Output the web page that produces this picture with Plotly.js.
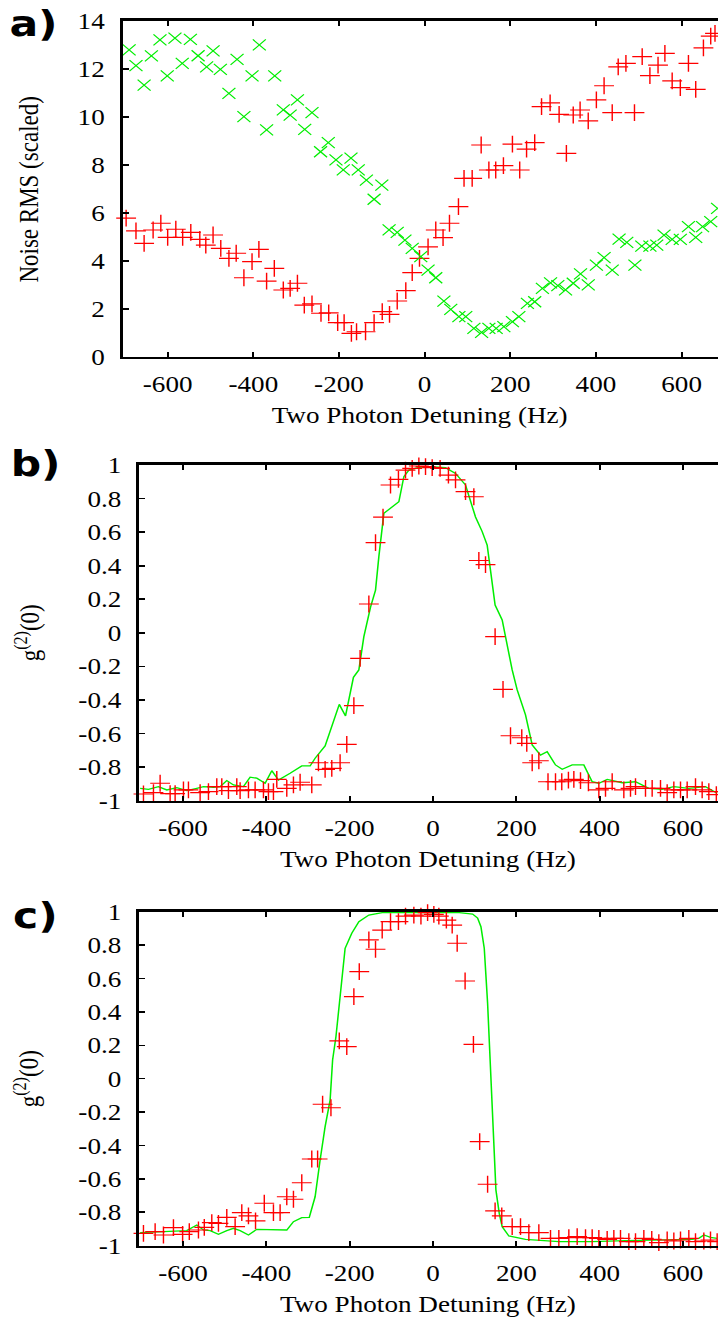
<!DOCTYPE html>
<html>
<head>
<meta charset="utf-8">
<script src="https://cdn.plot.ly/plotly-3.0.1.min.js"></script>
<style>
html,body{margin:0;padding:0;background:#fff;overflow:hidden;}
#plot{width:608px;height:1321px;transform:scaleX(1.18092);transform-origin:0 0;}
</style>
</head>
<body>
<div id="plot"></div>
<script>
// ---------- Panel a: noise RMS ----------
const rmsRedX = [-697,-674,-655,-634,-616,-600,-581,-565,-546,-525,-511,-494,-476,-457,-440,-422,-403,-387,-369,-351,-330,-314,-297,-281,-263,-242,-224,-203,-188,-171,-159,-138,-118,-99,-82,-64,-44,-29,-12,8,26,43,58,79,92,111,132,150,166,184,205,222,238,257,273,293,314,331,347,363,382,401,419,438,452,470,490,508,526,545,561,578,597,616,633,651,668,678];
const rmsRedY = [5.77,5.24,4.72,5.28,5.56,4.97,5.31,4.97,5.18,4.89,4.65,5.07,4.51,4.10,4.31,3.29,3.96,4.47,3.15,3.68,2.78,2.85,3.06,2.15,2.20,1.81,1.83,1.42,1.42,0.97,1.04,1.04,1.42,1.88,1.76,2.32,2.75,3.50,4.10,4.58,5.28,4.96,5.56,6.25,7.43,7.43,8.82,7.78,7.78,7.96,8.86,7.78,8.65,8.92,10.42,10.58,10.10,8.47,10.07,10.28,9.83,10.70,11.29,10.17,12.08,12.22,10.17,12.50,11.71,12.15,12.64,11.49,11.21,12.22,11.14,12.87,13.36,13.47];
const rmsGreenX = [-690,-674,-655,-638,-618,-601,-583,-566,-547,-529,-509,-494,-477,-457,-438,-422,-403,-386,-369,-350,-330,-314,-297,-280,-263,-243,-225,-207,-190,-172,-155,-136,-118,-100,-83,-64,-46,-29,-9,8,26,45,61,80,96,115,133,150,167,185,205,220,240,257,275,294,311,329,347,364,382,401,419,438,454,472,491,507,526,542,559,578,597,616,633,649,668,684];
const rmsGreenY = [12.78,12.13,11.32,12.53,13.20,11.70,13.27,12.22,13.22,12.54,12.08,12.74,11.97,10.97,12.39,10.00,11.70,12.99,9.45,11.70,10.28,10.07,10.70,9.47,10.17,8.54,8.92,8.20,7.78,8.27,7.78,7.36,6.56,7.15,5.28,5.18,4.86,4.51,4.17,3.61,3.29,2.32,1.97,1.67,1.67,1.18,1.01,1.18,1.18,1.25,1.46,1.67,2.22,2.29,2.85,3.08,2.96,2.78,3.06,3.45,2.99,3.82,4.13,3.61,4.90,4.76,3.82,4.61,4.61,4.65,5.07,4.89,4.89,5.42,4.97,5.42,5.63,6.18];

// ---------- Panel b: g2(0) ----------
const bLineX = [-703,-683,-659,-639,-615,-591,-567,-551,-527,-511,-495,-479,-455,-439,-423,-403,-387,-371,-343,-315,-295,-283,-259,-243,-225,-210,-191,-178,-166,-150,-138,-130,-122,-118,-82,-70,-58,-34,-6,30,54,78,102,118,130,138,149,166,190,202,222,238,258,274,294,310,334,362,382,398,418,454,486,518,550,578,614,654,682];
const bLineY = [-0.926,-0.932,-0.916,-0.936,-0.922,-0.940,-0.926,-0.916,-0.920,-0.916,-0.880,-0.906,-0.916,-0.860,-0.866,-0.896,-0.821,-0.877,-0.837,-0.793,-0.793,-0.747,-0.674,-0.559,-0.426,-0.495,-0.265,-0.221,-0.023,0.153,0.255,0.454,0.653,0.712,0.781,0.930,0.970,0.986,0.990,0.984,0.950,0.881,0.690,0.603,0.523,0.354,0.166,0.077,-0.221,-0.340,-0.489,-0.668,-0.728,-0.708,-0.787,-0.813,-0.787,-0.787,-0.887,-0.896,-0.873,-0.893,-0.887,-0.926,-0.932,-0.916,-0.926,-0.916,-0.956];
const bPtsX = [-695,-671,-655,-631,-619,-599,-587,-559,-539,-519,-507,-491,-471,-463,-443,-427,-407,-395,-383,-375,-351,-335,-319,-291,-275,-259,-243,-223,-207,-190,-175,-154,-138,-120,-102,-83,-66,-50,-34,-18,-2,17,37,54,78,98,110,126,149,168,186,213,225,238,254,276,294,309,325,338,354,373,398,414,430,458,474,486,510,526,546,562,578,594,610,630,646,662,680];
const bPtsY = [-0.960,-0.952,-0.896,-0.958,-0.958,-0.936,-0.936,-0.952,-0.946,-0.916,-0.916,-0.940,-0.916,-0.940,-0.936,-0.936,-0.936,-0.946,-0.946,-0.873,-0.926,-0.906,-0.890,-0.906,-0.774,-0.813,-0.807,-0.774,-0.664,-0.434,-0.152,0.172,0.537,0.690,0.881,0.915,0.970,0.980,0.994,0.990,0.984,0.980,0.940,0.911,0.841,0.811,0.431,0.407,-0.023,-0.337,-0.613,-0.625,-0.658,-0.774,-0.762,-0.887,-0.887,-0.887,-0.877,-0.873,-0.880,-0.893,-0.936,-0.926,-0.887,-0.936,-0.926,-0.916,-0.926,-0.926,-0.926,-0.952,-0.936,-0.936,-0.936,-0.916,-0.936,-0.946,-0.964];

// ---------- Panel c: g2(0) ----------
const cLineX = [-703,-655,-623,-591,-567,-551,-535,-515,-495,-479,-463,-443,-423,-399,-351,-335,-315,-297,-283,-271,-259,-247,-241,-233,-227,-219,-211,-195,-178,-154,-122,-98,63,95,107,115,123,131,139,145,151,159,166,182,222,302,382,462,542,622,638,650,666,682];
const cLineY = [-0.922,-0.916,-0.910,-0.910,-0.876,-0.906,-0.910,-0.932,-0.910,-0.896,-0.910,-0.936,-0.902,-0.902,-0.906,-0.856,-0.832,-0.830,-0.707,-0.487,-0.287,-0.128,0.112,0.251,0.411,0.611,0.781,0.871,0.940,0.980,0.994,0.994,0.994,0.986,0.962,0.910,0.781,0.451,0.012,-0.387,-0.667,-0.806,-0.886,-0.942,-0.962,-0.976,-0.976,-0.970,-0.966,-0.962,-0.956,-0.936,-0.950,-0.956];
const cPtsX = [-695,-667,-647,-623,-601,-585,-563,-549,-531,-515,-495,-475,-459,-443,-426,-405,-383,-367,-351,-335,-315,-291,-277,-265,-245,-225,-207,-190,-177,-154,-138,-122,-102,-83,-66,-46,-29,-13,2,14,32,46,58,77,97,112,131,149,165,190,210,230,254,282,302,326,346,366,382,398,418,434,450,470,486,506,525,542,562,578,594,614,630,650,666,682];
const cPtsY = [-0.926,-0.916,-0.936,-0.892,-0.932,-0.916,-0.906,-0.890,-0.862,-0.866,-0.830,-0.886,-0.802,-0.822,-0.852,-0.746,-0.802,-0.802,-0.707,-0.722,-0.623,-0.481,-0.481,-0.153,-0.174,0.226,0.192,0.491,0.641,0.831,0.775,0.890,0.940,0.940,0.974,0.980,0.974,0.994,0.984,0.974,0.950,0.920,0.811,0.585,0.206,-0.377,-0.632,-0.792,-0.822,-0.886,-0.886,-0.922,-0.922,-0.956,-0.956,-0.952,-0.946,-0.952,-0.952,-0.956,-0.962,-0.956,-0.956,-0.976,-0.976,-0.956,-0.962,-0.982,-0.966,-0.972,-0.966,-0.956,-0.976,-0.972,-0.966,-0.976];

// ---------- Tick labels & texts ----------
const xTickVals = [-600,-400,-200,0,200,400,600];
const xTickText = ["-600","-400","-200","0","200","400","600"];
const rmsTickVals = [0,2,4,6,8,10,12,14];
const rmsTickText = ["0","2","4","6","8","10","12","14"];
const gTickVals = [-1,-0.8,-0.6,-0.4,-0.2,0,0.2,0.4,0.6,0.8,1];
const gTickText = ["-1","-0.8","-0.6","-0.4","-0.2","0","0.2","0.4","0.6","0.8","1"];
const xTitle = "Two Photon Detuning (Hz)";
const rmsTitle = "Noise RMS (scaled)";
const gTitle = "g<sup>(2)</sup>(0)";
const panelLabels = ["a)","b)","c)"];

const RED = "#ff0000", GREEN = "#00ee00";
const SERIF = "Liberation Serif, Times New Roman, serif";

function plusTrace(x, y, xa, ya) {
  return {x: x, y: y, xaxis: xa, yaxis: ya, type: "scatter", mode: "markers", cliponaxis: false,
    marker: {symbol: "cross-thin", size: 12, color: RED, line: {color: RED, width: 1.2}}, hoverinfo: "skip"};
}
function xTrace(x, y, xa, ya) {
  return {x: x, y: y, xaxis: xa, yaxis: ya, type: "scatter", mode: "markers", cliponaxis: false,
    marker: {symbol: "x-thin", size: 11, color: GREEN, line: {color: GREEN, width: 1.1}}, hoverinfo: "skip"};
}
function lineTrace(x, y, xa, ya) {
  return {x: x, y: y, xaxis: xa, yaxis: ya, type: "scatter", mode: "lines",
    line: {color: GREEN, width: 1.3}, hoverinfo: "skip"};
}

const data = [
  plusTrace(rmsRedX, rmsRedY, "x", "y"),
  xTrace(rmsGreenX, rmsGreenY, "x", "y"),
  lineTrace(bLineX, bLineY, "x2", "y2"),
  plusTrace(bPtsX, bPtsY, "x2", "y2"),
  lineTrace(cLineX, cLineY, "x3", "y3"),
  plusTrace(cPtsX, cPtsY, "x3", "y3")
];

const axBase = {
  showgrid: false, zeroline: false, showline: true, linecolor: "#000", linewidth: 2.6,
  ticks: "inside", ticklen: 5, tickwidth: 1.6, tickcolor: "#000",
  tickfont: {family: SERIF, size: 23, color: "#000"}, tickmode: "array", fixedrange: true
};
function xAx(domain, range, anchor) {
  return Object.assign({}, axBase, {domain: domain, range: range, anchor: anchor, mirror: "ticks",
    tickvals: xTickVals, ticktext: xTickText, ticklabelstandoff: 5});
}
function yAx(domain, range, anchor, vals, text) {
  return Object.assign({}, axBase, {domain: domain, range: range, anchor: anchor, mirror: false,
    tickvals: vals, ticktext: text, ticklabelstandoff: 8});
}

function ann(text, x, y, size, family, angle, weight) {
  return {text: text, x: x, y: y, xref: "paper", yref: "paper", showarrow: false,
    xanchor: "center", yanchor: "middle", textangle: angle || 0,
    font: {family: family, size: size, color: "#000", weight: weight || "normal"}};
}

const layout = {
  width: 608, height: 1321,
  margin: {l: 0, r: 0, t: 0, b: 0},
  paper_bgcolor: "#fff", plot_bgcolor: "#fff",
  showlegend: false,
  xaxis: xAx([0.1709, 1], [-705, 685], "y"),
  yaxis: yAx([0.72998, 0.98433], [0, 14], "x", rmsTickVals, rmsTickText),
  xaxis2: xAx([0.194, 1], [-705, 684], "y2"),
  yaxis2: yAx([0.39387, 0.64799], [-1, 1], "x2", gTickVals, gTickText),
  xaxis3: xAx([0.194, 1], [-705, 684], "y3"),
  yaxis3: yAx([0.05701, 0.30984], [-1, 1], "x3", gTickVals, gTickText),
  annotations: [
    ann(panelLabels[0], 0.0467, 0.9819, 36, "DejaVu Sans", 0, "bold"),
    ann(panelLabels[1], 0.0487, 0.6488, 36, "DejaVu Sans", 0, "bold"),
    ann(panelLabels[2], 0.0487, 0.3072, 36, "DejaVu Sans", 0, "bold"),
    ann(xTitle, 0.5855, 0.68546, 23, SERIF),
    ann(xTitle, 0.597, 0.34951, 23, SERIF),
    ann(xTitle, 0.597, 0.01264, 23, SERIF),
    ann(rmsTitle, 0.0404, 0.8569, 23, SERIF, -90),
    ann(gTitle, 0.0383, 0.5208, 23, SERIF, -90),
    ann(gTitle, 0.0383, 0.1832, 23, SERIF, -90)
  ]
};

Plotly.newPlot("plot", data, layout, {staticPlot: true, displayModeBar: false});
</script>
</body>
</html>
